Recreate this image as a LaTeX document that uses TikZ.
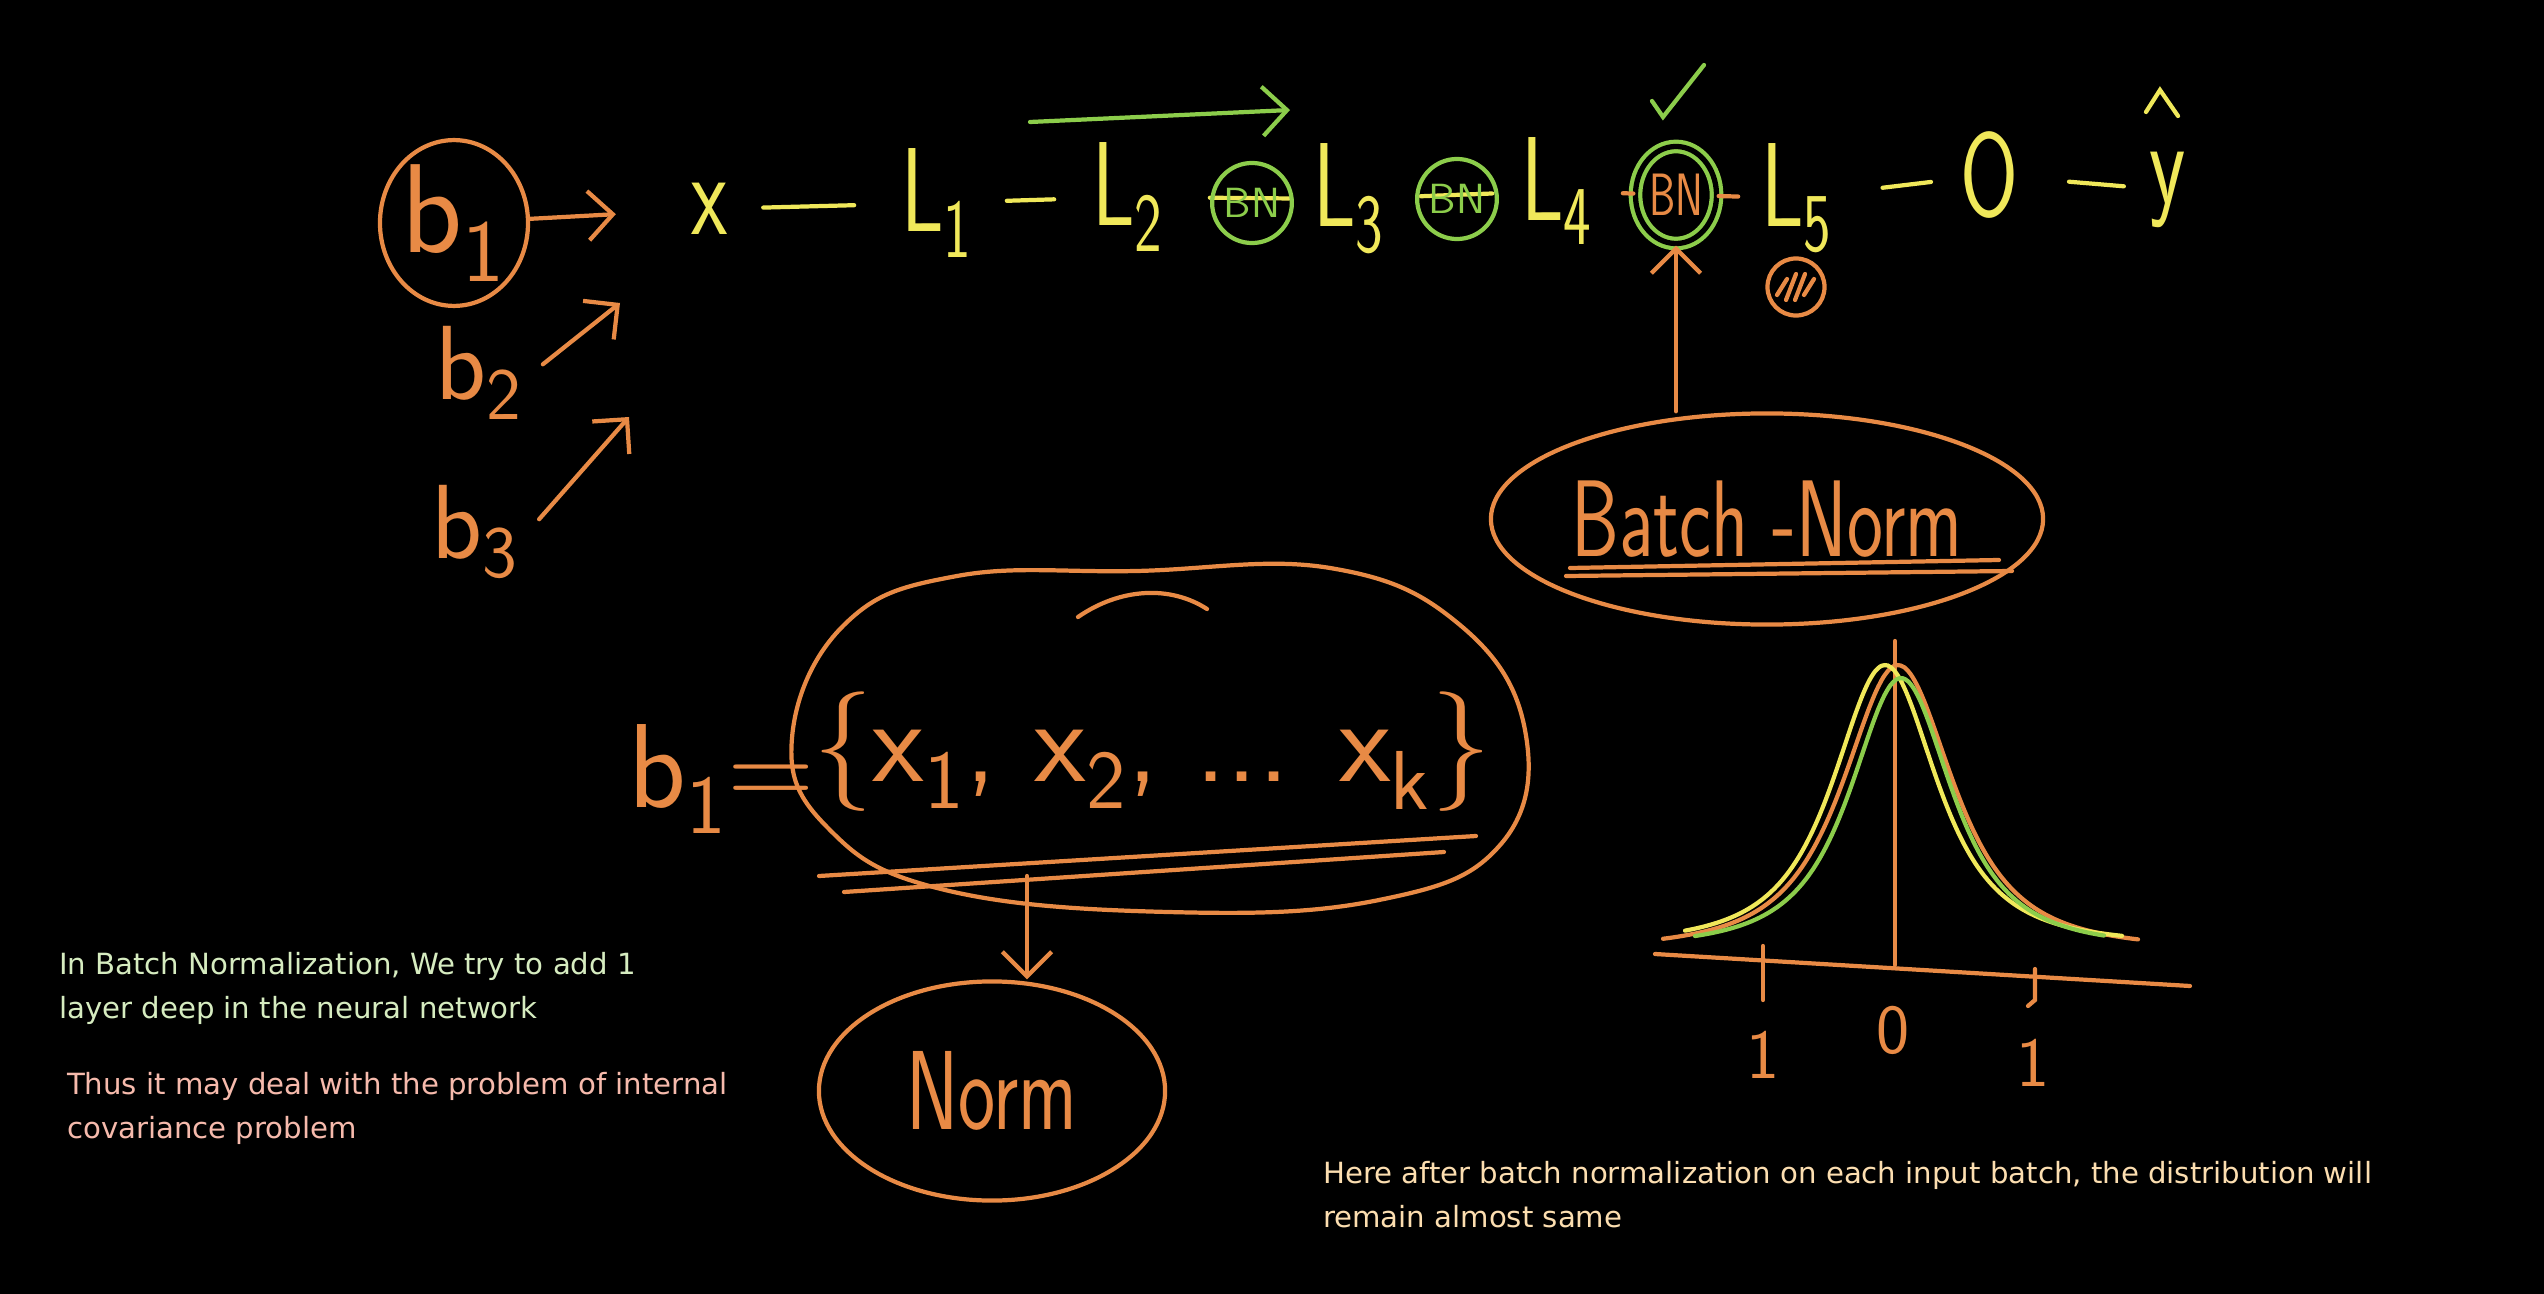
\documentclass[tikz,border=0pt]{standalone}
\usepackage{fontspec}
\setmainfont{DejaVu Sans}
\usepackage{graphicx}
\usetikzlibrary{arrows.meta,shapes.geometric}

\definecolor{chalkorange}{RGB}{232,138,69}
\definecolor{chalkyellow}{RGB}{240,232,90}
\definecolor{chalkgreen}{RGB}{140,205,75}
\definecolor{notegreen}{RGB}{214,236,192}
\definecolor{notepink}{RGB}{246,186,172}
\definecolor{notepeach}{RGB}{252,222,176}

\newcommand{\slim}[1]{\scalebox{0.7}[1]{#1}}

\tikzset{
  hand/.style={font=\sffamily\fontsize{#1}{#1}\selectfont, text=chalkorange, inner sep=2pt},
  layer/.style={font=\sffamily\fontsize{34}{34}\selectfont, text=chalkyellow, inner sep=2pt},
  bn/.style={draw=chalkgreen, text=chalkgreen, ellipse, inner sep=0pt,
    minimum width=0.73cm, minimum height=0.8cm, font=\sffamily\fontsize{12}{12}\selectfont},
  blob/.style={draw=chalkorange, ellipse, inner sep=0pt},
  note/.style={font=\fontsize{8.3}{12.5}\selectfont, align=left, inner sep=0pt, anchor=north west},
  ypen/.style={draw=chalkyellow},
  open/.style={draw=chalkorange},
  gpen/.style={draw=chalkgreen}
}

\begin{document}
\begin{tikzpicture}[x=0.01cm, y=-0.01cm, line width=1.2pt, line cap=round,
    >={Straight Barb[length=7pt,width=14pt]}]
        \fill[black] (0,0) rectangle (2544,1294);

        % Nodes
        \node[hand=36, blob, minimum width=1.46cm, minimum height=1.44cm] (b1) at (454,223) {b\textsubscript{1}};
        \node[hand=30] (b2) at (479,373) {b\textsubscript{2}};
        \node[hand=30] (b3) at (475,532) {b\textsubscript{3}};
        \node[layer] (x) at (710,209) {\slim{x}};
        \node[layer] (L1) at (937,203) {\slim{L\textsubscript{1}}};
        \node[layer] (L2) at (1128,197) {\slim{L\textsubscript{2}}};
        \node[layer] (L3) at (1349,199) {\slim{L\textsubscript{3}}};
        \node[layer] (L4) at (1557,191) {\slim{L\textsubscript{4}}};
        \node[layer] (L5) at (1797,198) {\slim{L\textsubscript{5}}};
        \node[layer] (O) at (1989,175) {\slim{O}};
        \node[layer] (yhat) at (2168,190) {\slim{y}};
        \coordinate (b2tip) at (620,303);
        \coordinate (b3tip) at (629,417);
        \coordinate (g1) at (1030,122);
        \coordinate (g2) at (1290,110);

        % Dashes between the layers
        \draw[ypen, shorten <=0.26cm, shorten >=0.38cm] (x) -- (L1);
        \draw[ypen, shorten <=0.25cm, shorten >=0.29cm] (L1) -- (L2);
        \draw[ypen, shorten <=0.37cm, shorten >=0.15cm] (L2) -- (L3);
        \draw[ypen, shorten <=0.27cm, shorten >=0.20cm] (L3) -- (L4);
        \draw[ypen, shorten <=0.41cm, shorten >=0.20cm] (L5) -- (O);
        \draw[ypen, shorten <=0.42cm, shorten >=0.17cm] (O) -- (yhat);
        \draw[chalkyellow] (2146,112) -- (2160,90) -- (2178,116);

        % Batch norm layers
        \node[bn] (BN1) at (1252,203) {BN};
        \node[bn] (BN2) at (1457,199) {BN};
        \node[bn, text=chalkorange, double=black, double distance=1.5pt, font=\sffamily\fontsize{17}{17}\selectfont,
          minimum width=0.81cm, minimum height=0.97cm] (BN3) at (1676,195) {\slim{BN}};
        \node[blob, circle, minimum size=0.57cm] (hatch) at (1796,287) {};
        \foreach \k/\h in {-14/8,-5/13,4/13,13/8}
          \draw[open] ([shift={(\k-5,\h)}]hatch.center) -- ([shift={(\k+5,-\h)}]hatch.center);
        \draw[open, shorten <=0.21cm] (L4) -- (BN3);
        \draw[open, shorten >=0.14cm] (BN3) -- (L5);
        \draw[gpen] (1652,101) -- (1663,117) -- (1704,65);

        % Batch-Norm box
        \node[hand=31, blob, minimum width=5.16cm, minimum height=2.11cm] (bnorm) at (1767,519) {\slim{Batch -Norm}};
        \draw[open] (1570,568) -- (1999,560);
        \draw[open] (1566,576) -- (2012,571);

        % Mini batch
        \draw[open] plot[smooth cycle, tension=0.7] coordinates {(792,738) (844,625) (957,576) (1136,571)
          (1330,568) (1460,625) (1525,730) (1501,844) (1379,900) (1168,912) (941,889) (827,827)};
        \node[hand=34] (batch) at (1152,752)
          {\{x\textsubscript{1}, x\textsubscript{2}, ... x\textsubscript{k}\}};
        \node[hand=34] (b1eq) at (722,779) {b\textsubscript{1}=};
        \draw[open] (1078,617) .. controls (1120,588) and (1170,585) .. (1207,609);
        \draw[open] (819,876) -- (1476,836);
        \draw[open] (844,892) -- (1444,852);
        \coordinate (setbar) at (1027,876);
        \node[hand=32, blob, minimum width=3.46cm, minimum height=2.19cm] (norm) at (992,1091) {\slim{Norm}};

        % Distribution
        \draw[open] (1655,954) -- (2190,986);
        \draw[open] (1895,641) -- (1895,965);
        \draw[open] (1763,946) -- (1763,1000);
        \draw[open] (2035,969) -- (2035,1000) -- (2028,1006);
        \node[hand=20] (one1) at (1763,1055) {1};
        \node[hand=20] (zero) at (1893,1030) {0};
        \node[hand=20] (one2) at (2033,1063) {1};
        \draw[chalkorange] plot[domain=-235:240, samples=70, smooth]
          ({1898+\x}, {950-285/(1+(\x/85)*(\x/85))^1.5});
        \draw[chalkyellow] plot[domain=-200:237, samples=70, smooth]
          ({1885+\x}, {945-280/(1+(\x/80)*(\x/80))^1.5});
        \draw[chalkgreen] plot[domain=-206:203, samples=70, smooth]
          ({1901+\x}, {948-270/(1+(\x/78)*(\x/78))^1.5});

        % Arrows
        \draw[->, open, shorten >=0.67cm] (b1) -- (x);
        \draw[->, open, shorten <=0.14cm] (b2.east) -- (b2tip);
        \draw[->, open, shorten <=0.17cm] (b3.east) -- (b3tip);
        \draw[->, gpen] (g1) -- (g2);
        \draw[->, open] (BN3.south |- bnorm.north) -- (BN3.south);
        \draw[->, open] (setbar) -- (setbar |- norm.north);

        % Notes
        \node[note, text=notegreen] (note1) at (57,950) {In Batch Normalization, We try to add 1\\layer deep in the neural network};
        \node[note, text=notepink] (note2) at (65,1070) {Thus it may deal with the problem of internal\\covariance problem};
        \node[note, text=notepeach] (note3) at (1321,1159) {Here after batch normalization on each input batch, the distribution will\\remain almost same};
\end{tikzpicture}
\end{document}
